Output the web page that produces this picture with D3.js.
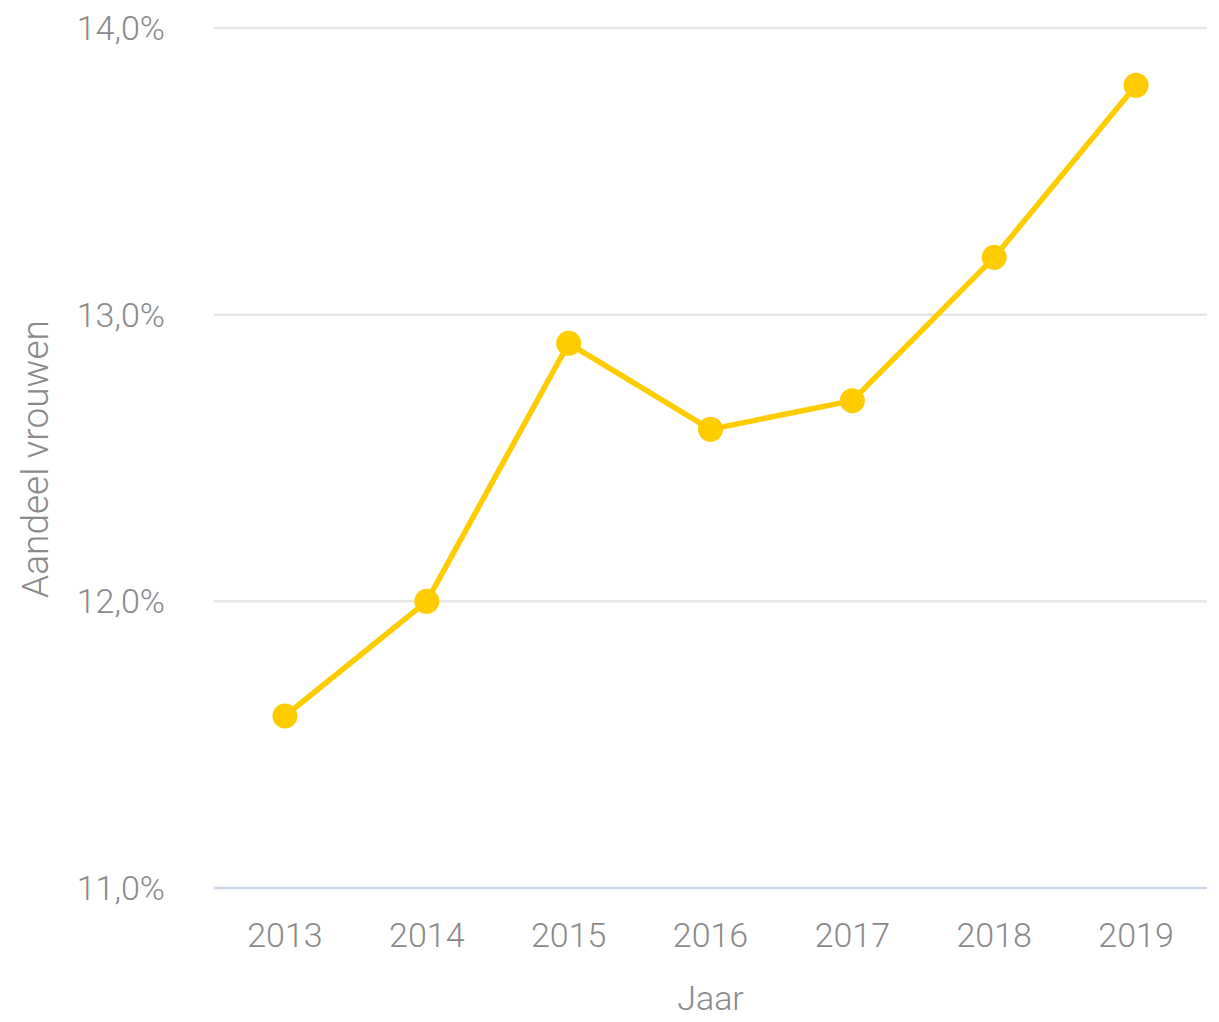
<!DOCTYPE html>
<html>
<head>
<meta charset="utf-8">
<script src="https://cdn.jsdelivr.net/npm/d3@7"></script>
<style>
    body { margin: 0; background: #fff; }
    text { font-family: Roboto, sans-serif; font-weight: 300; fill: #8a8a8a; }
</style>
</head>
<body>
<svg id="chart" width="1219" height="1022"></svg>
<script>
    // data
    const years = ["2013", "2014", "2015", "2016", "2017", "2018", "2019"];
    const aandeel = [11.6, 12.0, 12.9, 12.6, 12.7, 13.2, 13.8];
    const yTicks = [11, 12, 13, 14];

    const svg = d3.select("#chart");
    const mLeft = 214, mRight = 1207, mTop = 28, mBottom = 888;

    let x = d3.scaleBand().domain(years).range([mLeft, mRight]);
    let y = d3.scaleLinear().domain([11, 14]).range([mBottom, mTop]);
    let fmt = v => d3.format(".1f")(v).replace(".", ",") + "%";

    // gridlines
    svg.append("g").selectAll("line")
        .data(yTicks.filter(t => t > 11))
        .join("line")
        .attr("x1", mLeft).attr("x2", mRight)
        .attr("y1", d => y(d)).attr("y2", d => y(d))
        .style("stroke", "#e6e6e6").style("stroke-width", 2.5)

    // baseline
    svg.append("line")
        .attr("x1", mLeft).attr("x2", mRight)
        .attr("y1", y(11)).attr("y2", y(11))
        .style("stroke", "#ccd6eb").style("stroke-width", 2.5)

    // y labels
    svg.append("g").selectAll("text")
        .data(yTicks)
        .join("text")
        .attr("x", 165).attr("y", d => y(d))
        .attr("dy", "0.35em")
        .attr("text-anchor", "end")
        .style("font-size", "34px")
        .text(fmt)

    // x labels
    svg.append("g").selectAll("text")
        .data(years)
        .join("text")
        .attr("x", d => x(d) + x.bandwidth() / 2)
        .attr("y", 935).attr("dy", "0.35em")
        .attr("text-anchor", "middle")
        .style("font-size", "34px")
        .text(d => d)

    // axis titles
    svg.append("text")
        .attr("x", (mLeft + mRight) / 2).attr("y", 998).attr("dy", "0.35em")
        .attr("text-anchor", "middle")
        .style("font-size", "34px")
        .text("Jaar")
    svg.append("text")
        .attr("transform", `translate(35,459) rotate(-90)`)
        .attr("dy", "0.35em")
        .attr("text-anchor", "middle")
        .style("font-size", "37px")
        .text("Aandeel vrouwen")

    // line + dots
    let points = years.map((yr, i) => ({ yr: yr, v: aandeel[i] }));
    let line = d3.line()
        .x(d => x(d.yr) + x.bandwidth() / 2)
        .y(d => y(d.v));
    svg.append("path")
        .datum(points)
        .attr("d", line)
        .style("fill", "none")
        .style("stroke", "#ffcc00")
        .style("stroke-width", 5.5)
        .style("stroke-linejoin", "round")
    svg.append("g").selectAll("circle")
        .data(points)
        .join("circle")
        .attr("cx", d => x(d.yr) + x.bandwidth() / 2)
        .attr("cy", d => y(d.v))
        .attr("r", 12.5)
        .style("fill", "#ffcc00")
</script>
</body>
</html>
